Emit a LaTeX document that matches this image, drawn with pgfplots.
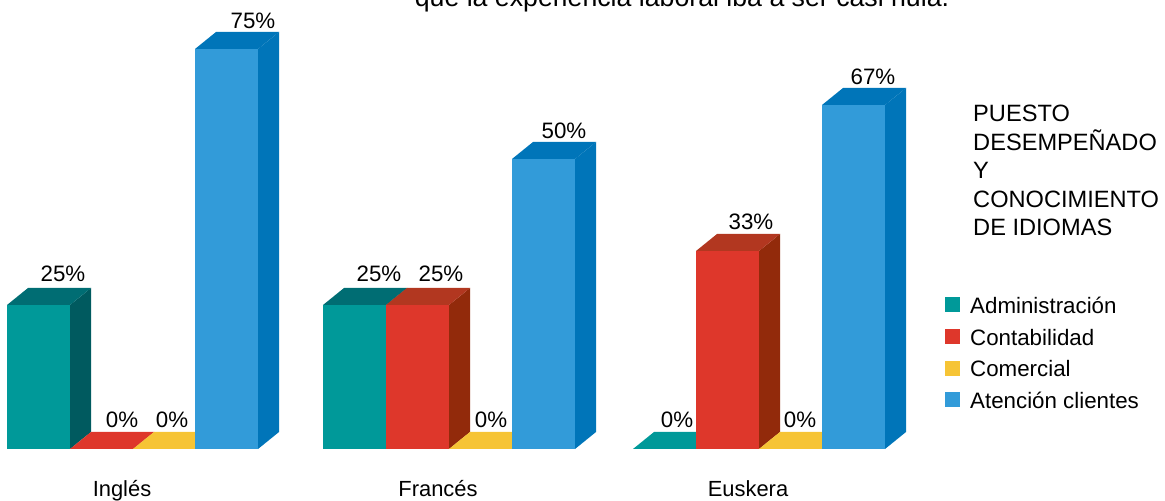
\documentclass[border=0pt]{standalone}
\usepackage{fontspec}
\setmainfont{Liberation Sans}
\usepackage{pgfplots}
\pgfplotsset{compat=1.18}

\definecolor{tealF}{HTML}{009999}
\definecolor{tealT}{HTML}{006D73}
\definecolor{tealS}{HTML}{005A5F}
\definecolor{redF}{HTML}{DE372B}
\definecolor{redT}{HTML}{B23720}
\definecolor{redS}{HTML}{922A0B}
\definecolor{yelF}{HTML}{F6C435}
\definecolor{bluF}{HTML}{329BD9}
\definecolor{bluT}{HTML}{0075B9}

% one 3D bar: x of left edge, height in px, front/top/side colours
\newcommand{\threedbar}[5]{%
  \pgfmathsetmacro{\xb}{#1+63}%
  \pgfmathsetmacro{\xc}{#1+21}%
  \pgfmathsetmacro{\xd}{#1+84}%
  \pgfmathsetmacro{\yt}{#2+17}%
  \addplot[fill=#5, draw=none, forget plot] coordinates {(\xb,0)(\xd,17)(\xd,\yt)(\xb,#2)} -- cycle;
  \addplot[fill=#4, draw=none, forget plot] coordinates {(#1,#2)(\xb,#2)(\xd,\yt)(\xc,\yt)} -- cycle;
  \addplot[fill=#3, draw=none, forget plot] coordinates {(#1,0)(\xb,0)(\xb,#2)(#1,#2)} -- cycle;
}
\pgfplotsset{swatch/.style={legend image code/.code={%
  \fill[#1, draw=none] (0bp,-6bp) rectangle (15bp,9bp);
  \path[draw=none] (0bp,0bp) -- (23bp,0bp);}}}

\begin{document}
\begin{tikzpicture}
\path[use as bounding box, clip] (0,0) rectangle (1165bp,501bp);
\begin{axis}[
    scale only axis,
    width=1165bp, height=501bp,
    xmin=0, xmax=1165,
    ymin=-52, ymax=449,
    clip=false,
    axis line style={draw=none},
    major tick length=0pt,
    ytick=\empty,
    xtick={122,438,748},
    xticklabels={Inglés,Francés,Euskera},
    xticklabel style={font=\fontsize{22}{24}\selectfont, anchor=base, yshift=5bp},
    legend style={
        at={(axis cs:945,154)}, anchor=north west,
        draw=none, fill=none, inner sep=0pt,
        font=\fontsize{22.4}{24}\selectfont,
        row sep=10bp,
    },
    legend cell align=left,
]
% Inglés
\threedbar{7}{144}{tealF}{tealT}{tealS}
\threedbar{70}{0}{redF}{redF}{redS}
\threedbar{133}{0}{yelF}{yelF}{yelF}
\threedbar{195}{400}{bluF}{bluT}{bluT}
% Francés
\threedbar{323}{144}{tealF}{tealT}{tealS}
\threedbar{386}{144}{redF}{redT}{redS}
\threedbar{449}{0}{yelF}{yelF}{yelF}
\threedbar{512}{290}{bluF}{bluT}{bluT}
% Euskera
\threedbar{633}{0}{tealF}{tealF}{tealF}
\threedbar{696}{198}{redF}{redT}{redS}
\threedbar{759}{0}{yelF}{yelF}{yelF}
\threedbar{822}{344}{bluF}{bluT}{bluT}

% value labels
\addplot[draw=none, forget plot, point meta=explicit symbolic,
    nodes near coords={\pgfplotspointmeta\%},
    nodes near coords style={anchor=base, inner sep=0pt, yshift=-1bp, text=black, font=\fontsize{22.4}{24}\selectfont}]
    table[meta=v] {
    x y v
    63 168 25
    122 22 0
    172 22 0
    253 421 75
    379 168 25
    441 168 25
    491 22 0
    564 311 50
    677 22 0
    751 220 33
    800 22 0
    873 365 67
};

\addlegendimage{swatch=tealF}
\addlegendentry{Administración}
\addlegendimage{swatch=redF}
\addlegendentry{Contabilidad}
\addlegendimage{swatch=yelF}
\addlegendentry{Comercial}
\addlegendimage{swatch=bluF}
\addlegendentry{Atención clientes}

\node[anchor=base, font=\fontsize{26.8}{28}\selectfont] at (axis cs:682,442.5)
    {que la experiencia laboral iba a ser casi nula.};
\node[anchor=base west, inner sep=0pt, align=left, font=\fontsize{23.7}{28.7}\selectfont] at (axis cs:973,213)
    {PUESTO\\DESEMPEÑADO\\Y\\CONOCIMIENTO\\DE IDIOMAS};
\end{axis}
\end{tikzpicture}
\end{document}
